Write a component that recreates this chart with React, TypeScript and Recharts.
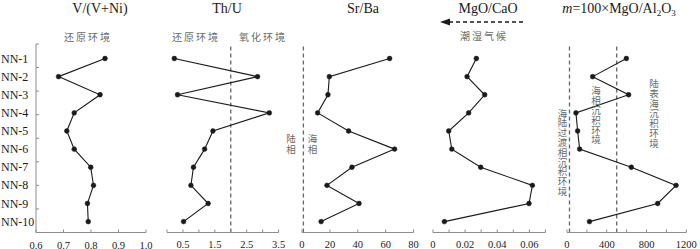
import { LineChart, Line, XAxis, YAxis, ReferenceLine } from 'recharts'

const SAMPLES = ['NN-1', 'NN-2', 'NN-3', 'NN-4', 'NN-5', 'NN-6', 'NN-7', 'NN-8', 'NN-9', 'NN-10']

const V_VNI   = [0.851, 0.682, 0.833, 0.739, 0.712, 0.739, 0.799, 0.809, 0.787, 0.79]
const TH_U    = [0.23, 2.84, 0.33, 3.21, 1.44, 1.18, 0.83, 0.75, 1.29, 0.52]
const SR_BA   = [62.8, 19.6, 18.6, 11.2, 33.4, 66.4, 35.8, 17.9, 40.9, 13.7]
const MGO_CAO = [0.027, 0.0212, 0.0322, 0.0222, 0.0098, 0.0117, 0.0297, 0.0619, 0.0598, 0.0071]
const M_VAL   = [597, 258, 620, 90, 107, 127, 647, 1097, 912, 226]

const V_TICKS   = [0.6, 0.7, 0.8, 0.9, 1.0]
const TH_TICKS  = [0, 0.5, 1, 1.5, 2, 2.5, 3, 3.5]
const TH_LABELS = [0.5, 1.5, 2.5, 3.5]
const SR_TICKS  = [0, 20, 40, 60, 80]
const MG_TICKS  = [0, 0.01, 0.02, 0.03, 0.04, 0.05, 0.06, 0.07]
const MG_LABELS = [0, 0.02, 0.04, 0.06]
const M_TICKS   = [0, 200, 400, 600, 800, 1000, 1200]
const M_LABELS  = [0, 400, 800, 1200]

const Y_DOMAIN: [number, number] = [0.2, 10.6]
const Y_MARKS = [0.2, 1.5, 2.8, 4.1, 5.4, 6.7, 8, 9.3, 10.6]
const Y_TICKS = [...new Set([...Y_MARKS, ...SAMPLES.map((_, i) => i + 1)])].sort((a, b) => a - b)

const SERIF = '"Liberation Serif", "Times New Roman", serif'
const CJK = '"Noto Sans CJK SC", sans-serif'
const AXIS = '#8c8c8c'
const INK = '#1a1a1a'
const NOTE = '#6a6a6a'

const toRows = (vals: number[]) => SAMPLES.map((s, i) => ({ sample: s, idx: i + 1, v: vals[i] }))

function XTick(props: any) {
  const { x, y, payload, labels, fmt } = props
  const show = labels.includes(payload.value)
  return (
    <g>
      <line x1={x} x2={x} y1={y} y2={y - 3} stroke={AXIS} />
      {show && (
        <text x={x} y={y + 16} textAnchor="middle" fontFamily={SERIF} fontSize={10.5} fill={INK}>
          {fmt(payload.value)}
        </text>
      )}
    </g>
  )
}

function YTick(props: any) {
  const { x, y, payload } = props
  const v = payload.value
  const isSample = Number.isInteger(v) && v >= 1 && v <= SAMPLES.length
  return (
    <g>
      {Y_MARKS.includes(v) && <line x1={x} x2={x + 3} y1={y} y2={y} stroke={AXIS} />}
      {isSample && (
        <text x={1} y={y} dy={4} textAnchor="start" fontFamily={SERIF} fontSize={12} fill={INK}>
          {SAMPLES[v - 1]}
        </text>
      )}
    </g>
  )
}

type Panel = {
  vals: number[]
  start: number
  end: number
  domain: [number, number]
  ticks: number[]
  labels: number[]
  fmt: (v: number) => string
  refs: number[]
  first?: boolean
}

const PANELS: Panel[] = [
  { vals: V_VNI, start: 36, end: 146, domain: [0.6, 1.0], ticks: V_TICKS, labels: V_TICKS, fmt: v => v.toFixed(1), refs: [], first: true },
  { vals: TH_U, start: 166.7, end: 278.3, domain: [0, 3.5], ticks: TH_TICKS, labels: TH_LABELS, fmt: v => v.toFixed(1), refs: [2] },
  { vals: SR_BA, start: 301.7, end: 413.3, domain: [0, 80], ticks: SR_TICKS, labels: SR_TICKS, fmt: v => String(v), refs: [1] },
  { vals: MGO_CAO, start: 433.3, end: 545.7, domain: [0, 0.07], ticks: MG_TICKS, labels: MG_LABELS, fmt: v => String(v), refs: [] },
  { vals: M_VAL, start: 566.7, end: 686, domain: [0, 1200], ticks: M_TICKS, labels: M_LABELS, fmt: v => String(v), refs: [25, 500] },
]

const PAD = 14

function ProfilePanel({ p }: { p: Panel }) {
  const left = p.first ? 0 : p.start - PAD
  const width = p.end - left + PAD
  return (
    <div style={{ position: 'absolute', left, top: 0 }}>
      <LineChart
        width={width} height={249} layout="vertical" data={toRows(p.vals)}
        margin={{ top: 44, right: PAD, bottom: 0, left: p.first ? 0 : PAD }}
      >
        <XAxis
          type="number" domain={p.domain} ticks={p.ticks} interval={0} height={16.5}
          axisLine={{ stroke: AXIS }} tickLine={false} tickSize={0} tickMargin={0}
          tick={(t: any) => <XTick {...t} labels={p.labels} fmt={p.fmt} />}
        />
        {p.first ? (
          <YAxis
            type="number" dataKey="idx" domain={Y_DOMAIN} ticks={Y_TICKS} interval={0} width={p.start}
            axisLine={{ stroke: AXIS }} tickLine={false} tickSize={0} tickMargin={0}
            tick={(t: any) => <YTick {...t} />}
          />
        ) : (
          <YAxis type="number" dataKey="idx" domain={Y_DOMAIN} hide />
        )}
        {p.refs.map(r => (
          <ReferenceLine key={r} x={r} stroke="#666" strokeWidth={1.3} strokeDasharray="4 3" />
        ))}
        <Line
          dataKey="v" stroke={INK} strokeWidth={1.1}
          dot={{ r: 2.4, fill: INK, stroke: INK, strokeWidth: 0.5 }}
          isAnimationActive={false}
        />
      </LineChart>
    </div>
  )
}

const TITLES = [
  { x: 100, text: 'V/(V+Ni)' },
  { x: 227, text: 'Th/U' },
  { x: 363, text: 'Sr/Ba' },
  { x: 488, text: 'MgO/CaO' },
]

const NOTES_H = [
  { x: 88, y: 41, text: '还原环境' },
  { x: 196, y: 41, text: '还原环境' },
  { x: 263, y: 41, text: '氧化环境' },
  { x: 484, y: 40, text: '潮湿气候' },
]

// vertical notes: x = column centre, top = top of first glyph
const NOTES_V = [
  { x: 291, top: 134, gap: 1.5, text: '陆相' },
  { x: 312.5, top: 134, gap: 1.5, text: '海相' },
  { x: 562.5, top: 108.3, gap: 0.3, text: '海陆过渡相沉积环境' },
  { x: 596, top: 86, gap: 0.3, text: '海相沉积环境' },
  { x: 654, top: 78.3, gap: 0.5, text: '陆表海沉积环境' },
]

function Overlay() {
  return (
    <svg width={700} height={249} style={{ position: 'absolute', left: 0, top: 0, pointerEvents: 'none' }}>
      {TITLES.map(t => (
        <text key={t.text} x={t.x} y={13} textAnchor="middle" fontFamily={SERIF} fontSize={14} fill={INK}>
          {t.text}
        </text>
      ))}
      <text x={619} y={13} textAnchor="middle" fontFamily={SERIF} fontSize={14} fill={INK}>
        <tspan fontStyle="italic">m</tspan>=100×MgO/Al<tspan fontSize={9} dy={3}>2</tspan>
        <tspan dy={-3}>O</tspan><tspan fontSize={9} dy={3}>3</tspan>
      </text>
      {NOTES_H.map(n => (
        <text key={n.x} x={n.x} y={n.y} textAnchor="middle" fontFamily={CJK} fontSize={10} letterSpacing={2} fill={NOTE}>
          {n.text}
        </text>
      ))}
      {NOTES_V.map(n => (
        <text key={n.x} x={n.x} y={n.top} textAnchor="start" fontFamily={CJK} fontSize={9.5}
          letterSpacing={n.gap} fill={NOTE} style={{ writingMode: 'vertical-rl' }}>
          {n.text}
        </text>
      ))}
      <line x1={523} x2={449} y1={22} y2={22} stroke={INK} strokeWidth={1.5} strokeDasharray="4 3" />
      <polygon points="440,22 450,18.5 450,25.5" fill={INK} />
    </svg>
  )
}

export default function App() {
  return (
    <div style={{ position: 'absolute', left: 0, top: 0, width: 700, height: 249, background: '#fff', overflow: 'hidden' }}>
      {PANELS.map((p, i) => <ProfilePanel key={i} p={p} />)}
      <Overlay />
    </div>
  )
}
